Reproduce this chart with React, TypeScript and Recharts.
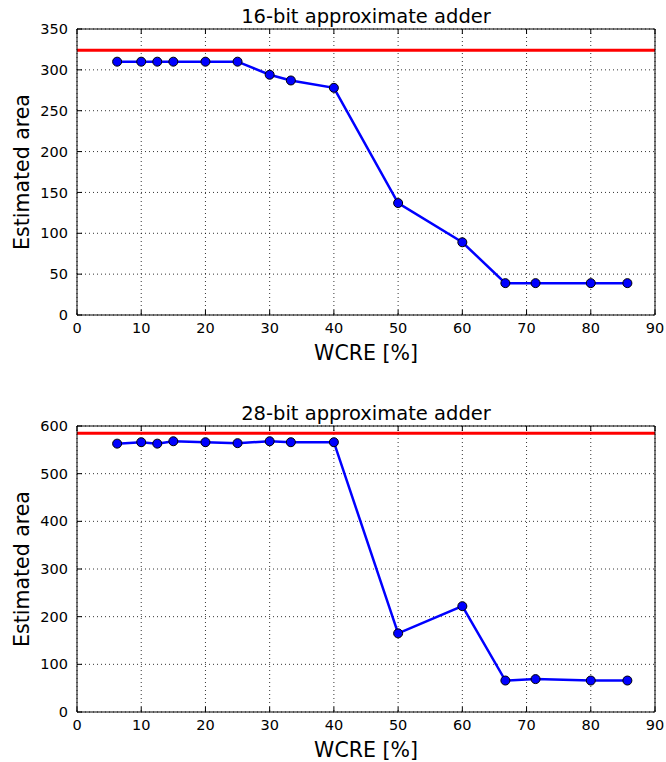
import React from 'react';
import { LineChart, Line, XAxis, YAxis, CartesianGrid, ReferenceLine, Label } from 'recharts';

// WCRE [%] of each approximate adder configuration
const wcre = [6.25, 10, 12.5, 15, 20, 25, 30, 33.3, 40, 50, 60, 66.7, 71.4, 80, 85.7];

// estimated area, 16-bit and 28-bit adders
const area16 = [310, 310, 310, 310, 310, 310, 294, 287, 278, 137, 89, 39, 39, 39, 39];
const area28 = [563, 566, 563, 568, 566, 564, 568, 566, 566, 165, 222, 66, 69, 66, 66];

// area of the exact adder (red line)
const exact16 = 324;
const exact28 = 585;

const xTicks = [0, 10, 20, 30, 40, 50, 60, 70, 80, 90];
const yTicks16 = [0, 50, 100, 150, 200, 250, 300, 350];
const yTicks28 = [0, 100, 200, 300, 400, 500, 600];

const FONT = '"DejaVu Sans", Verdana, sans-serif';
const tickStyle = { fill: '#000', fontSize: 14.5, fontFamily: FONT };
const noLabel = () => '';

interface PanelProps {
    title: string;
    values: number[];
    exact: number;
    yMax: number;
    yTicks: number[];
    height: number;
    marginTop: number;
    marginBottom: number;
}

function Panel({ title, values, exact, yMax, yTicks, height, marginTop, marginBottom }: PanelProps) {
    const data = wcre.map((x, i) => ({ wcre: x, area: values[i] }));

    // title above the plot box
    const TitleLabel = ({ viewBox }: any) => (
        <text
            x={viewBox.x + viewBox.width / 2}
            y={viewBox.y - 5}
            textAnchor="middle"
            fontSize={19.5}
            fontFamily={FONT}
            fill="#000"
        >
            {title}
        </text>
    );

    const XLabel = ({ viewBox }: any) => (
        <text
            x={viewBox.x + viewBox.width / 2}
            y={viewBox.y + 45}
            textAnchor="middle"
            fontSize={20.5}
            fontFamily={FONT}
            fill="#000"
        >
            WCRE [%]
        </text>
    );

    const YLabel = ({ viewBox }: any) => {
        const cx = 28.5;
        const cy = viewBox.y + viewBox.height / 2;
        return (
            <text
                x={cx}
                y={cy}
                transform={`rotate(-90 ${cx} ${cy})`}
                textAnchor="middle"
                fontSize={20.5}
                fontFamily={FONT}
                fill="#000"
            >
                Estimated area
            </text>
        );
    };

    return (
        <LineChart
            width={666}
            height={height}
            data={data}
            margin={{ top: marginTop - 1, right: 10, bottom: marginBottom, left: 27 }}
        >
            <CartesianGrid stroke="#000" strokeWidth={0.8} strokeDasharray="1 3" />
            <XAxis
                type="number"
                dataKey="wcre"
                domain={[0, 90]}
                ticks={xTicks}
                height={50}
                stroke="#000"
                tickSize={-5}
                tickMargin={13}
                tick={tickStyle}
            >
                <Label content={<XLabel />} />
            </XAxis>
            <XAxis
                xAxisId="top"
                orientation="top"
                type="number"
                dataKey="wcre"
                domain={[0, 90]}
                ticks={xTicks}
                height={1}
                stroke="#000"
                tickSize={-5}
                tickFormatter={noLabel}
                tick={tickStyle}
            >
                <Label content={<TitleLabel />} />
            </XAxis>
            <YAxis
                type="number"
                domain={[0, yMax]}
                ticks={yTicks}
                width={50}
                stroke="#000"
                tickSize={-5}
                tickMargin={14}
                tick={tickStyle}
            >
                <Label content={<YLabel />} />
            </YAxis>
            <YAxis
                yAxisId="right"
                orientation="right"
                type="number"
                domain={[0, yMax]}
                ticks={yTicks}
                width={1}
                stroke="#000"
                tickSize={-5}
                tickFormatter={noLabel}
                tick={tickStyle}
            />
            <ReferenceLine y={exact} stroke="#ff0000" strokeWidth={3} />
            <Line
                type="linear"
                dataKey="area"
                stroke="#0000ff"
                strokeWidth={2.5}
                dot={{ r: 4.5, fill: '#0000ff', stroke: '#000', strokeWidth: 1 }}
                isAnimationActive={false}
            />
        </LineChart>
    );
}

export default function App() {
    return (
        <div style={{ position: 'absolute', left: 0, top: 0, width: 666, height: 762, background: '#fff' }}>
            <Panel
                title="16-bit approximate adder"
                values={area16}
                exact={exact16}
                yMax={350}
                yTicks={yTicks16}
                height={380}
                marginTop={29}
                marginBottom={15}
            />
            <Panel
                title="28-bit approximate adder"
                values={area28}
                exact={exact28}
                yMax={600}
                yTicks={yTicks28}
                height={382}
                marginTop={46}
                marginBottom={0}
            />
        </div>
    );
}
